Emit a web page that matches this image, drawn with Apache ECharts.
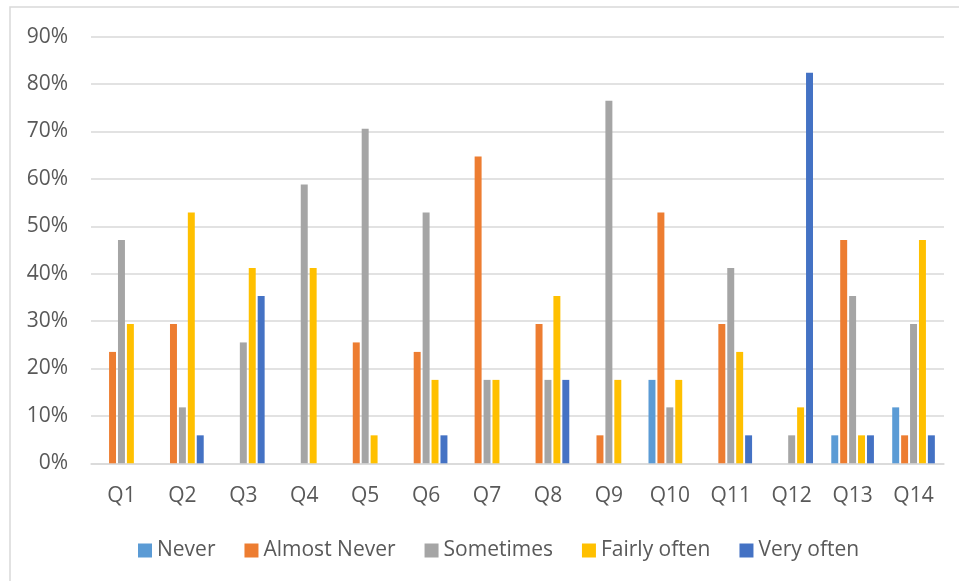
<!DOCTYPE html>
<html>
<head>
<meta charset="utf-8">
<script src="https://cdn.jsdelivr.net/npm/echarts@6/dist/echarts.min.js"></script>
<style>
  html, body { margin: 0; padding: 0; background: #ffffff; }
  #chart { width: 959px; height: 581px; }
</style>
</head>
<body>
<div id="chart"></div>
<script>
// Questions on the x axis
const categories = ['Q1', 'Q2', 'Q3', 'Q4', 'Q5', 'Q6', 'Q7', 'Q8', 'Q9', 'Q10', 'Q11', 'Q12', 'Q13', 'Q14'];

// Share of answers per frequency level (%)
const never        = [0, 0, 0, 0, 0, 0, 0, 0, 0, 17.6, 0, 0, 5.9, 11.8];
const almostNever  = [23.5, 29.4, 0, 0, 25.5, 23.5, 64.7, 29.4, 5.9, 52.9, 29.4, 0, 47.1, 5.9];
const sometimes    = [47.1, 11.8, 25.5, 58.8, 70.6, 52.9, 17.6, 17.6, 76.5, 11.8, 41.2, 5.9, 35.3, 29.4];
const fairlyOften  = [29.4, 52.9, 41.2, 41.2, 5.9, 17.6, 17.6, 35.3, 17.6, 17.6, 23.5, 11.8, 5.9, 47.1];
const veryOften    = [0, 5.9, 35.3, 0, 0, 5.9, 0, 17.6, 0, 0, 5.9, 82.4, 5.9, 5.9];

const seriesNames = ['Never', 'Almost Never', 'Sometimes', 'Fairly often', 'Very often'];
const seriesData = [never, almostNever, sometimes, fairlyOften, veryOften];
const colors = ['#5B9BD5', '#ED7D31', '#A5A5A5', '#FFC000', '#4472C4'];

const FONT = '"Open Sans", "Noto Sans", sans-serif';
const TEXT_COLOR = '#595959';
const LINE_COLOR = '#d9d9d9';

const chart = echarts.init(document.getElementById('chart'), null, { renderer: 'canvas' });

chart.setOption({
  animation: false,
  backgroundColor: '#ffffff',
  color: colors,
  textStyle: { fontFamily: FONT },
  graphic: [{
    type: 'rect',
    shape: { x: 10, y: 7, width: 1200, height: 1000 },
    style: { fill: 'none', stroke: LINE_COLOR, lineWidth: 1.5 },
    silent: true,
    z: -1
  }],
  grid: { left: 91, right: 15, top: 36.7, bottom: 117.7, containLabel: false },
  legend: {
    data: seriesNames,
    left: 133,
    top: 535,
    icon: 'rect',
    itemWidth: 14,
    itemHeight: 14,
    itemGap: 29,
    textStyle: { fontFamily: FONT, fontSize: 21, color: TEXT_COLOR, padding: [0, 0, 0, 0] }
  },
  xAxis: {
    type: 'category',
    data: categories,
    axisTick: { show: false },
    axisLine: { lineStyle: { color: LINE_COLOR, width: 1.5 } },
    axisLabel: { fontFamily: FONT, fontSize: 21, color: TEXT_COLOR, margin: 22 }
  },
  yAxis: {
    type: 'value',
    min: 0,
    max: 90,
    interval: 10,
    axisLine: { show: false },
    axisTick: { show: false },
    splitLine: { lineStyle: { color: LINE_COLOR, width: 1.5 } },
    axisLabel: { fontFamily: FONT, fontSize: 21, color: TEXT_COLOR, margin: 23, formatter: '{value}%' }
  },
  series: seriesNames.map((name, i) => ({
    name: name,
    type: 'bar',
    data: seriesData[i],
    barGap: '28%',
    barCategoryGap: '30%',
    itemStyle: { color: colors[i] }
  }))
});
</script>
</body>
</html>
